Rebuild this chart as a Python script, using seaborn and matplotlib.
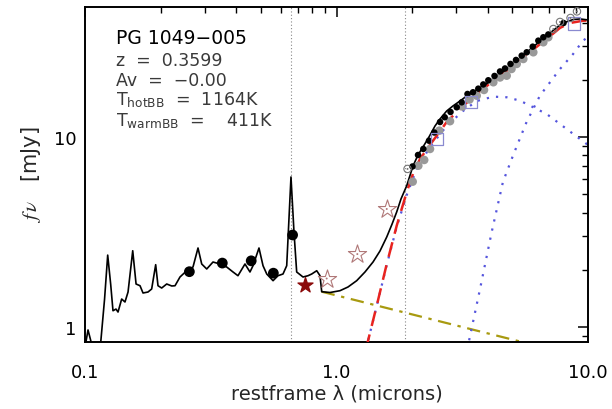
import numpy as np
import pandas as pd
import matplotlib
matplotlib.use("Agg")
import matplotlib.pyplot as plt
import seaborn as sns

# ---------------- data ----------------
# template SED (black solid)
sed_lam = [0.1003, 0.1028, 0.1066, 0.1140, 0.1150, 0.1196, 0.1231, 0.1265, 0.1292, 0.1328,
           0.1353, 0.1399, 0.1442, 0.1483, 0.1548, 0.1596, 0.1655, 0.1701, 0.1780, 0.1841,
           0.1910, 0.1951, 0.2018, 0.2113, 0.2213, 0.2280, 0.2386, 0.2537, 0.2688, 0.2814,
           0.2911, 0.3048, 0.3228, 0.3443, 0.3660, 0.3877, 0.4057, 0.4326, 0.4529, 0.4656,
           0.4918, 0.5103, 0.5280, 0.5594, 0.5853, 0.6128, 0.6339, 0.6592, 0.6776, 0.6945,
           0.7359, 0.7705, 0.7970, 0.8344, 0.8598, 0.8733, 0.9423, 1.0326, 1.111, 1.203,
           1.298, 1.397, 1.489, 1.584, 1.663, 1.735, 1.805, 1.902, 2.014, 2.109,
           2.208, 2.332, 2.465, 2.580, 2.742, 2.904, 3.097, 3.333, 3.610, 3.895,
           4.190, 4.590, 5.030, 5.515, 6.043, 6.624, 7.260, 7.740, 8.230, 8.720,
           9.290, 10.0]
sed_f = [0.80, 0.965, 0.80, 0.70, 0.78, 1.40, 2.39, 1.68, 1.218, 1.243,
         1.199, 1.404, 1.354, 1.528, 2.52, 1.684, 1.649, 1.51, 1.528, 1.585,
         2.128, 1.649, 1.604, 1.684, 1.644, 1.649, 1.833, 1.978, 2.069, 2.605,
         2.146, 2.02, 2.198, 2.146, 2.069, 1.948, 1.862, 2.146, 1.948, 2.102,
         2.605, 2.102, 1.901, 1.753, 1.862, 1.901, 2.102, 6.16, 3.16, 1.948,
         1.833, 1.862, 1.901, 1.978, 1.862, 1.534, 1.519, 1.553, 1.624, 1.753,
         1.948, 2.198, 2.512, 2.977, 3.48, 4.03, 4.72, 5.54, 7.03, 8.04,
         8.86, 10.0, 11.43, 12.44, 13.7, 14.56, 15.46, 16.63, 17.67, 18.78,
         20.2, 21.98, 24.2, 26.7, 29.8, 32.8, 36.3, 38.8, 40.4, 41.5,
         41.8, 41.3]

# total blackbody model (red dashed)
tot_lam = [1.31, 1.445, 1.584, 1.735, 1.902, 2.014, 2.148, 2.353, 2.742, 3.184,
           3.721, 4.31, 5.03, 5.88, 6.85, 7.74, 8.48, 9.55, 10.0]
tot_f = [0.766, 1.294, 2.146, 3.41, 5.13, 6.39, 7.66, 9.08, 11.99, 14.56,
         17.46, 20.2, 23.6, 28.0, 32.8, 37.5, 39.8, 40.9, 41.0]

# hot blackbody, T = 1164 K (blue dotted)
hot_lam = [1.31, 1.445, 1.584, 1.735, 1.902, 2.084, 2.353, 2.742, 3.184, 3.61,
           4.203, 4.751, 5.365, 6.06, 6.85, 7.74, 8.74, 10.0]
hot_f = [0.766, 1.29, 2.12, 3.36, 4.95, 6.79, 8.86, 11.43, 13.7, 15.46,
         16.3, 16.18, 15.53, 14.33, 13.21, 11.7, 10.37, 9.08]

# warm blackbody, T = 411 K (blue dotted)
warm_lam = [3.27, 3.365, 3.721, 4.14, 4.59, 5.03, 5.70, 6.44, 7.74, 8.72, 9.55, 10.0]
warm_f = [0.766, 0.847, 1.585, 3.16, 5.8, 7.97, 12.0, 16.5, 22.8, 27.3, 32.1, 33.6]

# power-law continuum (olive dash-dot)
pl_lam = [0.873, 6.2]
pl_f = [1.534, 0.80]

# optical photometry (big black circles)
phot_lam = [0.260, 0.3515, 0.458, 0.561, 0.669]
phot_f = [1.955, 2.17, 2.23, 1.92, 3.05]

# filled star and open stars
star_lam = [0.749]
star_f = [1.66]
ostar_lam = [0.914, 1.21, 1.584]
ostar_f = [1.80, 2.42, 4.18]

# IR spectrum (small black dots)
spec_lam = [2.005, 2.109, 2.214, 2.332, 2.448, 2.580, 2.693, 2.840, 3.006, 3.147,
            3.318, 3.489, 3.663, 3.834, 4.014, 4.249, 4.468, 4.677, 4.919, 5.173,
            5.450, 5.706, 6.027, 6.346, 6.643, 6.953, 7.991]
spec_f = [6.995, 8.04, 8.65, 9.56, 10.56, 11.99, 12.70, 13.54, 14.33, 15.22,
          16.84, 17.19, 17.96, 18.90, 19.88, 20.95, 22.12, 22.94, 24.23, 25.43,
          26.79, 27.91, 29.87, 32.13, 33.48, 34.64, 39.8]

# second spectrum (grey circles)
grey_lam = [2.009, 2.115, 2.232, 2.354, 2.563, 2.827, 3.170, 3.380, 3.610, 3.859,
            4.203, 4.467, 4.751, 4.964, 5.207, 5.530, 6.061, 6.643, 6.953]
grey_f = [5.82, 7.06, 7.57, 8.65, 10.80, 12.11, 14.47, 15.75, 16.50, 17.68,
          19.41, 20.57, 21.02, 22.80, 24.23, 25.73, 27.91, 31.51, 33.48]

# open squares
sq_lam = [2.504, 3.417, 8.80]
sq_f = [9.76, 15.29, 39.6]

# dotted open circles
oc_lam = [1.916, 7.28, 7.74, 8.52, 9.04]
oc_f = [6.79, 37.0, 40.3, 42.3, 45.8]

vlines = [0.658, 1.865]
xticks = [0.1, 1.0, 10.0]
xtick_labels = ["0.1", "1.0", "10.0"]
yticks = [1, 10]
ytick_labels = ["1", "10"]

# ---------------- style ----------------
sns.set_style("white")
plt.rcParams['font.family'] = ['DejaVu Sans']
plt.rcParams['mathtext.fontset'] = 'custom'
plt.rcParams['mathtext.rm'] = 'DejaVu Sans'
plt.rcParams['mathtext.it'] = 'STIXGeneral:italic'
plt.rcParams['mathtext.bf'] = 'DejaVu Sans:bold'

fig = plt.figure(figsize=(6.12, 4.10), dpi=100)
ax = fig.add_axes([85 / 612, 1 - 342.7 / 410, (588 - 85) / 612, (342.7 - 7.5) / 410])
ax.set_xscale('log')
ax.set_yscale('log')

for v in vlines:
    ax.axvline(v, color='#888888', lw=0.8, ls=(0, (1, 2)), zorder=1)

def line(x, y, **kw):
    sns.lineplot(x=x, y=y, ax=ax, sort=False, estimator=None, legend=False, **kw)

line(pl_lam, pl_f, color='#a89a10', lw=1.6, linestyle=(0, (6, 3, 1.5, 3)), zorder=2)
line(hot_lam, hot_f, color='#5555dd', lw=1.6, linestyle=(0, (1, 3.2)), zorder=2)
line(warm_lam, warm_f, color='#5555dd', lw=1.6, linestyle=(0, (1, 3.2)), zorder=2)
line(tot_lam, tot_f, color='#e8231f', lw=1.8, linestyle=(0, (6, 3.5)), zorder=3)
line(sed_lam, sed_f, color='black', lw=1.2, zorder=4)

sns.scatterplot(x=grey_lam, y=grey_f, ax=ax, s=38, color='#999999', edgecolor='none', zorder=5)
sns.scatterplot(x=spec_lam, y=spec_f, ax=ax, s=22, color='black', edgecolor='none', zorder=6)
sns.scatterplot(x=sq_lam, y=sq_f, ax=ax, s=80, marker='s', facecolor='none',
                edgecolor='#8a8ad0', linewidth=0.9, zorder=6)
sns.scatterplot(x=oc_lam, y=oc_f, ax=ax, s=28, marker='o', facecolor='none',
                edgecolor='#777777', linewidth=0.8, zorder=7)
sns.scatterplot(x=oc_lam, y=oc_f, ax=ax, s=2, color='#777777', edgecolor='none', zorder=7)
sns.scatterplot(x=phot_lam, y=phot_f, ax=ax, s=60, color='black', edgecolor='none', zorder=6)
sns.scatterplot(x=star_lam, y=star_f, ax=ax, s=130, marker='*', color='#8b0a0a',
                edgecolor='#8b0a0a', zorder=6)
sns.scatterplot(x=ostar_lam, y=ostar_f, ax=ax, s=190, marker='*', facecolor='white',
                edgecolor='#b07878', linewidth=0.8, zorder=6)
sns.scatterplot(x=ostar_lam, y=ostar_f, ax=ax, s=2, color='#b07878', edgecolor='none', zorder=7)

ax.set_xlim(0.1, 10.0)
ax.set_ylim(0.837, 48.6)
ax.set_xticks(xticks)
ax.set_xticklabels(xtick_labels)
ax.set_yticks(yticks)
ax.set_yticklabels(ytick_labels)
ax.tick_params(which='both', direction='in', top=True, right=True, colors='black',
               labelsize=13)
ax.tick_params(which='major', length=7, width=1.1)
ax.tick_params(which='minor', length=4, width=1.0)
ax.tick_params(axis='x', which='major', pad=15)
ax.tick_params(axis='y', which='major', pad=6)
ax.xaxis.set_minor_formatter(matplotlib.ticker.NullFormatter())
ax.yaxis.set_minor_formatter(matplotlib.ticker.NullFormatter())
for sp in ax.spines.values():
    sp.set_linewidth(1.4)
    sp.set_color('black')

ax.set_xlabel("restframe λ (microns)", fontsize=14, labelpad=2)
ax.set_ylabel(r"$f\,\nu$   [mJy]", fontsize=15, labelpad=8)

tx = 116 / 612
fig.text(tx, 1 - 38.5 / 410, "PG 1049\u2212005", fontsize=13.5, color='black', va='center')
info = ["z  =  0.3599", "Av  =  \u22120.00", r"T$_{\rm hotBB}$  =  1164K",
        r"T$_{\rm warmBB}$  =    411K"]
ys = [60.8, 80.7, 100.5, 121.0]
for s, yy in zip(info, ys):
    fig.text(tx, 1 - yy / 410, s, fontsize=12.5, color='#3a3a3a', va='center')

fig.savefig("out.png", dpi=100)
